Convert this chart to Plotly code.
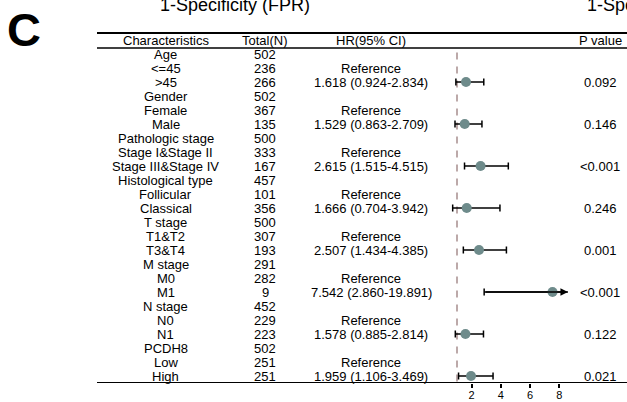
import plotly.graph_objects as go

# ---------------- data ----------------
characteristics = ["Age", "<=45", ">45", "Gender", "Female", "Male",
                   "Pathologic stage", "Stage I&Stage II", "Stage III&Stage IV",
                   "Histological type", "Follicular", "Classical",
                   "T stage", "T1&T2", "T3&T4", "M stage", "M0", "M1",
                   "N stage", "N0", "N1", "PCDH8", "Low", "High"]
total_n = ["502", "236", "266", "502", "367", "135", "500", "333", "167",
           "457", "101", "356", "500", "307", "193", "291", "282", "9",
           "452", "229", "223", "502", "251", "251"]
reference_rows = [1, 4, 7, 10, 13, 16, 19, 22]
hr_rows = [2, 5, 8, 11, 14, 17, 20, 23]
hr = [1.618, 1.529, 2.615, 1.666, 2.507, 7.542, 1.578, 1.959]
ci_low = [0.924, 0.863, 1.515, 0.704, 1.434, 2.860, 0.885, 1.106]
ci_high = [2.834, 2.709, 4.515, 3.942, 4.385, 19.891, 2.814, 3.469]
p_values = ["0.092", "0.146", "<0.001", "0.246", "0.001", "<0.001", "0.122", "0.021"]
x_ticks = [2, 4, 6, 8]
headers = ["Characteristics", "Total(N)", "HR(95% CI)", "P value"]

# ---------------- styling / layout constants ----------------
W, H = 627, 402
FONT = "Liberation Sans, Arial, sans-serif"
FS = 13
XMIN, XMAX = 0.5, 8.6
col_x = [165.5 / W, 265 / W, 371 / W, 600 / W]
point_color = "#6E8B8B"
ref_line_color = "#A68C8C"
tfont = dict(family=FONT, size=FS, color="black")

fig = go.Figure()

# CI lines (clipped at the axis max)
lx, ly = [], []
for r, lo, up in zip(hr_rows, ci_low, ci_high):
    lx += [lo, min(up, XMAX), None]
    ly += [r, r, None]
fig.add_trace(go.Scatter(x=lx, y=ly, mode="lines",
                         line=dict(color="black", width=1.5),
                         hoverinfo="skip", showlegend=False))

# caps
cx, cy = [], []
for r, lo, up in zip(hr_rows, ci_low, ci_high):
    cx.append(lo); cy.append(r)
    if up <= XMAX:
        cx.append(up); cy.append(r)
fig.add_trace(go.Scatter(x=cx, y=cy, mode="markers",
                         marker=dict(symbol="line-ns", size=5,
                                     line=dict(color="black", width=1.5)),
                         hoverinfo="skip", showlegend=False))

# points
fig.add_trace(go.Scatter(x=hr, y=hr_rows, mode="markers",
                         marker=dict(color=point_color, size=10, line=dict(width=0)),
                         showlegend=False))

ann = []
# arrows for truncated CI
for r, lo, up in zip(hr_rows, ci_low, ci_high):
    if up > XMAX:
        ann.append(dict(x=XMAX, y=r, ax=lo, ay=r, xref="x", yref="y",
                        axref="x", ayref="y", showarrow=True, arrowhead=2,
                        arrowsize=1, arrowwidth=1.5, arrowcolor="black", text=""))


def txt(x, y, t, yref="y", **kw):
    d = dict(x=x, y=y, xref="paper", yref=yref, text=t, showarrow=False,
             xanchor="center", yanchor="middle", font=tfont)
    d.update(kw)
    ann.append(d)


# headers
for cxp, t in zip(col_x, headers):
    txt(cxp, -0.93, t)
# table body
for i, (c, n) in enumerate(zip(characteristics, total_n)):
    txt(col_x[0], i, c)
    txt(col_x[1], i, n)
for r in reference_rows:
    txt(col_x[2], r, "Reference")
for r, h, lo, up, p in zip(hr_rows, hr, ci_low, ci_high, p_values):
    txt(col_x[2], r, f"{h:.3f} ({lo:.3f}-{up:.3f})")
    txt(col_x[3], r, p)

# panel letter and cut-off titles from neighbouring panels
txt(24 / W, 1 - 30 / H, "<b>C</b>", yref="paper",
    font=dict(family=FONT, size=47, color="black"))
txt(235 / W, 1 - 5 / H, "1-Specificity (FPR)", yref="paper",
    font=dict(family=FONT, size=18, color="black"))
txt(585 / W, 1 - 5 / H, "1-Specificity (FPR)", yref="paper", xanchor="left",
    font=dict(family=FONT, size=18, color="black"))

shapes = [
    dict(type="line", xref="paper", yref="y", x0=97 / W, x1=1, y0=-1.5, y1=-1.5,
         line=dict(color="black", width=2)),
    dict(type="line", xref="paper", yref="y", x0=97 / W, x1=1, y0=-0.43, y1=-0.43,
         line=dict(color="black", width=1.5)),
    dict(type="line", xref="paper", yref="y", x0=97 / W, x1=1, y0=23.5, y1=23.5,
         line=dict(color="black", width=2)),
    dict(type="line", xref="x", yref="y", x0=1, x1=1, y0=-0.1, y1=23.5,
         line=dict(color=ref_line_color, width=1.5, dash="7px,7px"), layer="below"),
]

fig.update_layout(
    width=W, height=H, margin=dict(l=0, r=0, t=0, b=0, autoexpand=False),
    paper_bgcolor="white", plot_bgcolor="white",
    annotations=ann, shapes=shapes, showlegend=False,
    xaxis=dict(domain=[(457 - 0.5 * 14.6) / W, (457 + 7.6 * 14.6) / W],
               range=[XMIN, XMAX], tickvals=x_ticks, ticks="outside", ticklen=4,
               tickwidth=1.5, tickcolor="black", showgrid=False, zeroline=False,
               showline=False, automargin=False, ticklabelstandoff=-2,
               tickfont=dict(family=FONT, size=11, color="black")),
    yaxis=dict(domain=[19 / H, 1], range=[23.5, -(54 / 14)], visible=False,
               showgrid=False, zeroline=False, automargin=False),
)

fig.write_html("out.html")
